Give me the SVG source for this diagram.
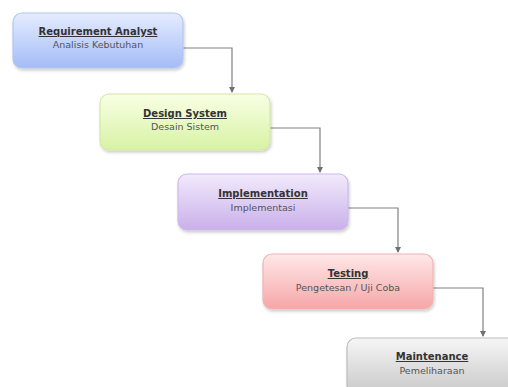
<svg xmlns="http://www.w3.org/2000/svg" width="508" height="387" viewBox="0 0 508 387">
<defs>
<linearGradient id="gB" x1="0" y1="0" x2="0" y2="1"><stop offset="0" stop-color="#e4ecff"/><stop offset="1" stop-color="#a4bcf6"/></linearGradient>
<linearGradient id="gG" x1="0" y1="0" x2="0" y2="1"><stop offset="0" stop-color="#f8ffe4"/><stop offset="1" stop-color="#d8f2a4"/></linearGradient>
<linearGradient id="gP" x1="0" y1="0" x2="0" y2="1"><stop offset="0" stop-color="#f2eafc"/><stop offset="1" stop-color="#c9b0ea"/></linearGradient>
<linearGradient id="gR" x1="0" y1="0" x2="0" y2="1"><stop offset="0" stop-color="#ffe8e8"/><stop offset="1" stop-color="#f6a6a8"/></linearGradient>
<linearGradient id="gY" x1="0" y1="0" x2="0" y2="1"><stop offset="0" stop-color="#f6f6f6"/><stop offset="1" stop-color="#c8c8c8"/></linearGradient>
<marker id="arr" markerWidth="6" markerHeight="6" refX="5" refY="3" orient="auto" markerUnits="userSpaceOnUse"><path d="M0,0 L6,3 L0,6 z" fill="#707070"/></marker>
<filter id="sh" x="-10%" y="-10%" width="130%" height="140%"><feDropShadow dx="1" dy="2" stdDeviation="1.5" flood-color="#000" flood-opacity="0.2"/></filter>
</defs>
<style>
.box{stroke-width:1.2;filter:url(#sh)}
.t{font-family:"DejaVu Sans",Verdana,sans-serif;font-size:10px;font-weight:bold;fill:#333;text-anchor:middle;text-decoration:underline}
.s{font-family:"DejaVu Sans",Verdana,sans-serif;font-size:9.5px;fill:#555;text-anchor:middle}
.c{fill:none;stroke:#808080;stroke-width:1.2;marker-end:url(#arr)}
</style>
<g id="connectors">
<path class="c" d="M183,48 H232 V92"/>
<path class="c" d="M270,128 H320 V172"/>
<path class="c" d="M348,208 H398 V252"/>
<path class="c" d="M433,288 H483 V336"/>
</g>
<g id="n1">
<rect class="box" x="13" y="13" width="170" height="55" rx="9" fill="url(#gB)" stroke="#b4c6ee"/>
<text class="t" x="98" y="35">Requirement Analyst</text>
<text class="s" x="98" y="48">Analisis Kebutuhan</text>
</g>
<g id="n2">
<rect class="box" x="100" y="94" width="170" height="56" rx="9" fill="url(#gG)" stroke="#d2e8aa"/>
<text class="t" x="185" y="117">Design System</text>
<text class="s" x="185" y="130">Desain Sistem</text>
</g>
<g id="n3">
<rect class="box" x="178" y="174" width="170" height="56" rx="9" fill="url(#gP)" stroke="#cdb8ea"/>
<text class="t" x="263" y="197">Implementation</text>
<text class="s" x="263" y="211">Implementasi</text>
</g>
<g id="n4">
<rect class="box" x="263" y="254" width="170" height="55" rx="9" fill="url(#gR)" stroke="#f0b4b4"/>
<text class="t" x="348" y="277">Testing</text>
<text class="s" x="348" y="291">Pengetesan / Uji Coba</text>
</g>
<g id="n5">
<rect class="box" x="347" y="338" width="170" height="56" rx="9" fill="url(#gY)" stroke="#bcbcbc"/>
<text class="t" x="432" y="360">Maintenance</text>
<text class="s" x="432" y="374">Pemeliharaan</text>
</g>
</svg>
